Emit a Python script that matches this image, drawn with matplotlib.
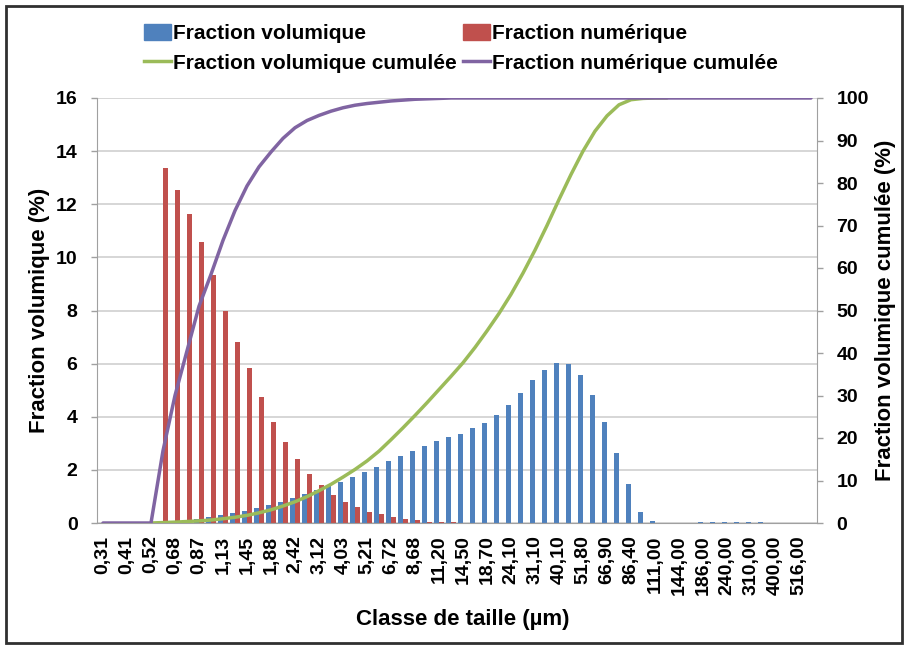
import numpy as np
import matplotlib
matplotlib.use("Agg")
import matplotlib.pyplot as plt
from matplotlib.patches import Patch, Rectangle
from matplotlib.lines import Line2D

nan = np.nan

tick_labels = ["0,31", "0,41", "0,52", "0,68", "0,87", "1,13", "1,45", "1,88", "2,42", "3,12",
               "4,03", "5,21", "6,72", "8,68", "11,20", "14,50", "18,70", "24,10", "31,10", "40,10",
               "51,80", "66,90", "86,40", "111,00", "144,00", "186,00", "240,00", "310,00", "400,00", "516,00"]

frac_vol = [0, 0, 0, 0, 0, 0.05, 0.07, 0.11, 0.16, 0.21,
            0.29, 0.36, 0.46, 0.55, 0.68, 0.80, 0.95, 1.09, 1.24, 1.40,
            1.56, 1.72, 1.91, 2.10, 2.33, 2.51, 2.71, 2.90, 3.08, 3.22,
            3.36, 3.56, 3.78, 4.06, 4.43, 4.91, 5.38, 5.77, 6.01, 5.97,
            5.58, 4.83, 3.79, 2.63, 1.48, 0.40, 0.09, 0.01, 0, 0,
            0.03, 0.03, 0.03, 0.03, 0.03, 0.03, 0, 0, 0, 0]

frac_num = [0, 0, 0, 0, 0, 13.35, 12.54, 11.63, 10.57, 9.34,
            7.99, 6.83, 5.85, 4.73, 3.81, 3.04, 2.40, 1.83, 1.42, 1.05,
            0.80, 0.61, 0.43, 0.33, 0.21, 0.14, 0.10, 0.05, 0.03, 0.02,
            0.01, 0.01, 0.01, 0.01, 0.01, 0.01, 0.01, 0.01, 0.01, 0.01,
            0.01, 0, 0, 0, 0, 0, 0, 0, 0, 0,
            0, 0, 0, 0, 0, 0, 0, 0, 0, 0]

cum_vol = [nan, nan, nan, nan, 0, 0.1, 0.2, 0.35, 0.5, 0.7,
           1.0, 1.35, 1.8, 2.4, 3.1, 4.0, 5.0, 6.2, 7.6, 9.1,
           10.8, 12.6, 14.6, 16.9, 19.6, 22.4, 25.3, 28.3, 31.4, 34.5,
           37.7, 41.3, 45.2, 49.3, 53.8, 58.8, 64.2, 70.0, 76.1, 82.0,
           87.5, 92.2, 95.8, 98.4, 99.6, 99.9, 100, 100, nan, nan,
           nan, nan, nan, nan, nan, nan, nan, nan, nan, nan]

cum_num = [0, 0, 0, 0, 0, 17.0, 30.0, 40.5, 51.0, 58.5,
           66.5, 73.5, 79.3, 83.8, 87.3, 90.5, 93.0, 94.7, 95.9, 96.9,
           97.7, 98.3, 98.7, 99.0, 99.3, 99.5, 99.7, 99.8, 99.9, 100,
           100, 100, 100, 100, 100, 100, 100, 100, 100, 100,
           100, 100, 100, 100, 100, 100, 100, 100, 100, 100,
           100, 100, 100, 100, 100, 100, 100, 100, 100, 100]

series_names = ["Fraction volumique", "Fraction numérique",
                "Fraction volumique cumulée", "Fraction numérique cumulée"]
colors = ["#4F81BD", "#C0504D", "#9BBB59", "#8064A2"]

plt.rcParams['font.family'] = ['Liberation Sans', 'DejaVu Sans']
plt.rcParams['font.weight'] = 'bold'

W, H = 906, 646
fig = plt.figure(figsize=(W / 100, H / 100), dpi=100)
L, R, T, B = 97, 817, 98, 523
ax = fig.add_axes([L / W, 1 - B / H, (R - L) / W, (B - T) / H])

x = np.arange(len(frac_vol))
bw = 0.43
ax.bar(x - 0.22, frac_vol, width=bw, color=colors[0], zorder=2)
ax.bar(x + 0.22, frac_num, width=bw, color=colors[1], zorder=2)

ax.set_xlim(-0.5, len(x) - 0.5)
ax.set_ylim(0, 16)
ax.set_yticks(np.arange(0, 17, 2))
ax.set_xticks(x[::2])
ax.set_xticklabels(tick_labels, rotation=90, fontsize=14, fontweight='bold')
ax.set_axisbelow(True)
ax.grid(axis='y', color='#d0d0d0', lw=1.2)
ax.tick_params(axis='y', labelsize=14, length=4, width=1, color='#a0a0a0', pad=10)
ax.tick_params(axis='x', length=0, pad=9)
for s in ['top', 'right']:
    ax.spines[s].set_visible(False)
for s in ['left', 'bottom']:
    ax.spines[s].set_color('#a0a0a0')

ax2 = ax.twinx()
ax2.plot(x, cum_vol, color=colors[2], lw=2.5, solid_capstyle='round')
ax2.plot(x, cum_num, color=colors[3], lw=2.5, solid_capstyle='round')
ax2.set_ylim(0, 100)
ax2.set_yticks(np.arange(0, 101, 10))
ax2.tick_params(axis='y', labelsize=14, length=4, width=1, color='#a0a0a0', pad=10)
for s in ['top', 'left', 'bottom']:
    ax2.spines[s].set_visible(False)
ax2.spines['right'].set_color('#a0a0a0')
for lab in ax.get_yticklabels() + ax2.get_yticklabels():
    lab.set_fontweight('bold')

fig.text(40 / W, 1 - 310 / H, "Fraction volumique (%)", rotation=90, ha='center', va='center',
         fontsize=16, fontweight='bold')
fig.text(886 / W, 1 - 310 / H, "Fraction volumique cumulée (%)", rotation=90, ha='center', va='center',
         fontsize=16, fontweight='bold')
fig.text(463 / W, 1 - 619 / H, "Classe de taille (µm)", ha='center', va='center',
         fontsize=16, fontweight='bold')

handles = [Patch(color=colors[0]), Line2D([], [], color=colors[2], lw=2.5),
           Patch(color=colors[1]), Line2D([], [], color=colors[3], lw=2.5)]
labels = [series_names[0], series_names[2], series_names[1], series_names[3]]
fig.legend(handles, labels, ncol=2, loc='upper left', bbox_to_anchor=(144 / W, 1 - 24 / H),
           frameon=False, handlelength=1.3, handleheight=0.8, handletextpad=0.1, columnspacing=0.3,
           labelspacing=0.5, borderaxespad=0, borderpad=0,
           prop={'size': 15, 'weight': 'bold'})

fig.patches.append(Rectangle((6 / W, 3 / H), (W - 10) / W, (H - 9) / H, transform=fig.transFigure,
                             fill=False, edgecolor='#303030', lw=2))

fig.savefig("out.png", dpi=100)
